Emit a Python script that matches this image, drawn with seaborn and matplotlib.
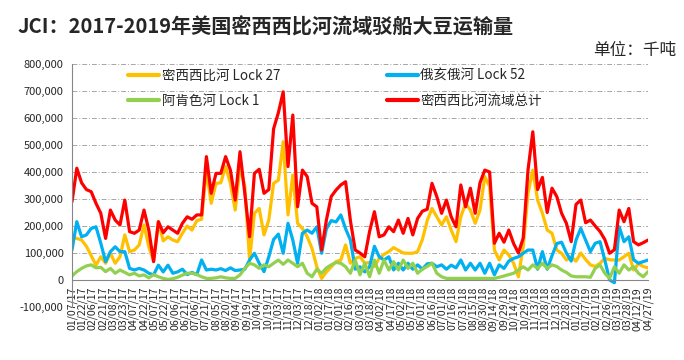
#!/usr/bin/env python3
"""Weekly soybean barge shipments on the Mississippi river system (JCI)."""
import matplotlib

matplotlib.use("Agg")
import matplotlib.dates as mdates  # noqa: E402
import matplotlib.pyplot as plt  # noqa: E402
import matplotlib.ticker as mticker  # noqa: E402
import pandas as pd  # noqa: E402
import seaborn as sns  # noqa: E402

# weekly observations, values in thousand (shown x1000 on the axis)
WEEKS = pd.date_range("2017-01-07", "2019-04-27", freq="7D")
TICK_DATES = pd.date_range("2017-01-07", "2019-04-27", freq="15D")

LOCK27 = [160, 154, 148, 125, 90, 55, 86, 62, 99, 62,
          86, 167, 105, 111, 130, 204, 123, 70, 216, 145,
          160, 148, 142, 173, 200, 185, 220, 225, 407, 284,
          358, 360, 420, 358, 259, 420, 346, 74, 247, 265,
          167, 222, 358, 370, 512, 241, 389, 210, 191, 160,
          117, 49, 6, 30, 49, 68, 74, 130, 62, 80,
          86, 62, 65, 50, 80, 95, 105, 120, 110, 100,
          99, 99, 105, 150, 220, 265, 234, 204, 234, 185,
          142, 234, 284, 259, 210, 259, 383, 346, 111, 74,
          111, 93, 62, 12, 123, 321, 407, 296, 247, 185,
          173, 111, 99, 74, 86, 70, 100, 76, 56, 50,
          62, 80, 75, 74, 74, 86, 99, 37, 60, 50, 45]

LOCK52 = [111, 216, 160, 167, 191, 197, 136, 68, 105, 123,
          105, 105, 43, 37, 43, 37, 25, 19, 55, 30,
          55, 25, 30, 40, 20, 28, 20, 74, 37, 40,
          37, 42, 35, 45, 35, 37, 40, 74, 99, 62,
          31, 86, 150, 170, 99, 210, 148, 62, 173, 185,
          173, 197, 99, 190, 220, 215, 241, 190, 148, 40,
          49, 30, 49, 125, 86, 74, 86, 37, 62, 37,
          62, 40, 56, 40, 60, 62, 49, 56, 40, 55,
          45, 74, 37, 62, 37, 62, 25, 62, 19, 56,
          43, 70, 80, 86, 99, 111, 111, 40, 105, 40,
          90, 135, 140, 100, 70, 148, 191, 148, 105, 136,
          142, 74, 0, -10, 197, 142, 160, 75, 62, 68, 74]

LOCK1 = [15, 31, 43, 52, 56, 45, 47, 31, 43, 25,
         37, 28, 19, 25, 15, 19, 8, 20, 12, 6,
         2, 5, 10, 18, 25, 25, 20, 12, 6, 6,
         8, 12, 8, 6, 6, 19, 43, 62, 56, 43,
         56, 49, 62, 74, 58, 74, 62, 49, 62, 25,
         12, 40, 25, 45, 56, 65, 62, 49, 25, 74,
         19, 62, 12, 74, 25, 74, 37, 68, 37, 74,
         43, 62, 25, 40, 50, 62, 25, 12, 6, 6,
         6, 6, 6, 6, 6, 6, 6, 6, 6, 10,
         15, 20, 25, 37, 49, 37, 56, 43, 62, 43,
         56, 50, 37, 28, 15, 12, 12, 12, 10, 43,
         56, 25, 6, 49, 25, 56, 37, 49, 25, 12, 31]

TOTAL = [290, 414, 360, 335, 327, 284, 247, 154, 259, 222,
         204, 296, 179, 173, 185, 259, 185, 68, 216, 175,
         197, 185, 173, 210, 234, 225, 241, 241, 457, 321,
         395, 395, 457, 407, 296, 475, 321, 160, 395, 410,
         321, 335, 560, 620, 697, 420, 611, 271, 407, 383,
         284, 271, 111, 222, 309, 333, 352, 364, 220, 111,
         100, 86, 180, 253, 160, 167, 197, 179, 222, 173,
         228, 167, 228, 255, 262, 358, 309, 247, 296, 234,
         197, 352, 271, 340, 247, 360, 407, 400, 136, 173,
         140, 185, 135, 100, 155, 407, 549, 335, 380, 250,
         340, 309, 247, 210, 142, 280, 296, 212, 222, 200,
         180, 150, 99, 112, 259, 216, 265, 142, 130, 138, 148]

NAMES = ["密西西比河 Lock 27", "俄亥俄河 Lock 52", "阿肯色河 Lock 1",
         "密西西比河流域总计"]
COLOURS = ["#FFC000", "#00B0F0", "#92D050", "#FF0000"]
Y_TICKS = [-100, 0, 100, 200, 300, 400, 500, 600, 700, 800]

W, H = 684, 360


def main() -> None:
    sns.set_style("white")
    plt.rcParams["font.family"] = ["Noto Sans CJK SC", "DejaVu Sans"]

    df = pd.DataFrame({"week": WEEKS, NAMES[0]: LOCK27, NAMES[1]: LOCK52,
                       NAMES[2]: LOCK1, NAMES[3]: TOTAL})
    long = df.melt(id_vars="week", var_name="series", value_name="volume")

    fig = plt.figure(figsize=(W / 100, H / 100), dpi=100)
    ax = fig.add_axes([72 / W, 1 - 307 / H, (648 - 72) / W, (307 - 64) / H])

    for y in Y_TICKS:
        if y > 0:
            ax.axhline(y, color="#A6A6A6", lw=0.7, ls=(0, (5, 2, 1, 2)),
                       zorder=0)

    sns.lineplot(data=long, x="week", y="volume", hue="series",
                 hue_order=NAMES, palette=COLOURS, linewidth=2.3, ax=ax,
                 legend=False)

    ax.set_xlim(WEEKS[0], WEEKS[-1])
    ax.set_ylim(-100, 800)
    ax.set_xlabel("")
    ax.set_ylabel("")

    ax.set_xticks(TICK_DATES)
    ax.xaxis.set_major_formatter(mdates.DateFormatter("%m/%d/%y"))
    ax.set_yticks(Y_TICKS)
    ax.yaxis.set_major_formatter(
        mticker.FuncFormatter(lambda v, _: f"{int(v * 1000):,}"))
    for lab in ax.get_xticklabels():
        lab.set_family("DejaVu Sans")
    ax.tick_params(axis="x", rotation=90, labelsize=7.6, length=4,
                   width=0.8, color="#868686", pad=1, direction="out")
    ax.tick_params(axis="y", labelsize=8, length=4, width=0.8,
                   color="#868686", pad=2, direction="out")

    for side in ("top", "right"):
        ax.spines[side].set_visible(False)
    ax.spines["left"].set_color("#868686")
    ax.spines["bottom"].set_color("#868686")
    ax.spines["bottom"].set_position(("data", 0))

    handles = [plt.Line2D([], [], color=c, lw=3) for c in COLOURS]
    order = [0, 2, 1, 3]
    fig.legend([handles[i] for i in order], [NAMES[i] for i in order],
               loc="upper left", bbox_to_anchor=(116 / W, 1 - 57 / H),
               ncol=2, frameon=False, fontsize=9.7, handlelength=2.3,
               handletextpad=0.2, columnspacing=7.9, labelspacing=0.8)

    fig.text(18 / W, 1 - 27 / H, "JCI：2017-2019年美国密西西比河流域驳船大豆运输量",
             fontsize=14.5, fontweight="bold", va="center", ha="left")
    fig.text(676 / W, 1 - 50 / H, "单位：千吨", fontsize=12,
             va="center", ha="right")

    fig.savefig("out.png", dpi=100)
    plt.close(fig)


if __name__ == "__main__":
    main()
